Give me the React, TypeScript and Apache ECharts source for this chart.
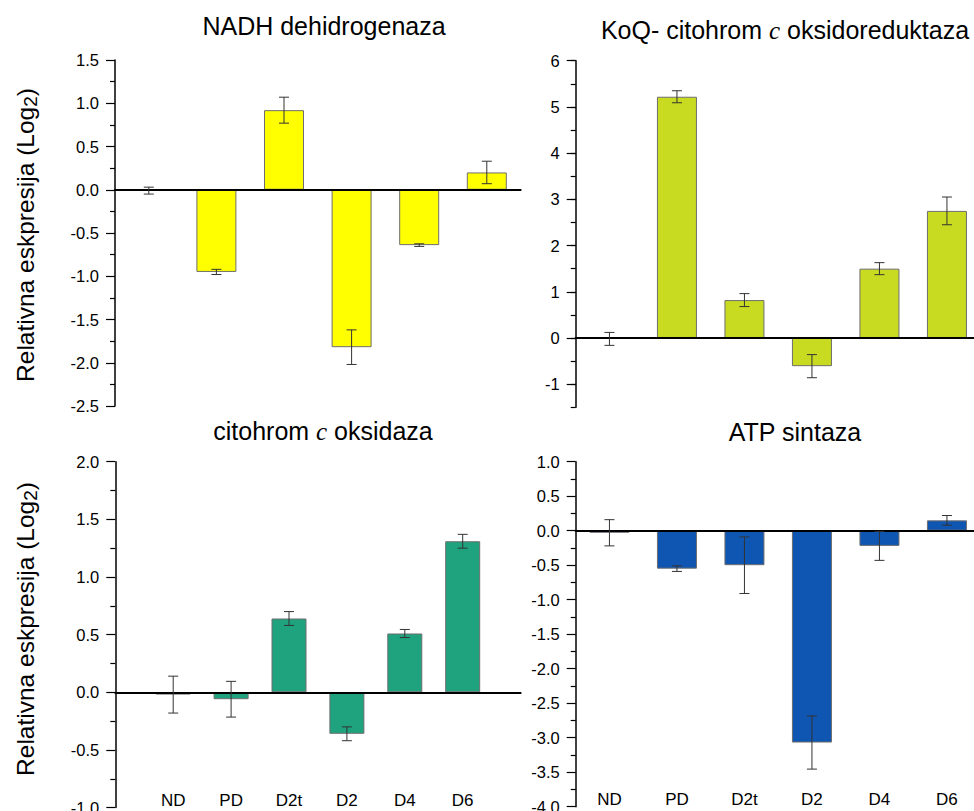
import React, { useEffect, useRef } from "react";
import * as echarts from "echarts";

const categories = ["ND", "PD", "D2t", "D2", "D4", "D6"];

const nadhValues = [-0.01, -0.95, 0.92, -1.82, -0.64, 0.2];
const nadhErrors = [0.04, 0.03, 0.15, 0.2, 0.015, 0.13];

const koqValues = [-0.02, 5.22, 0.82, -0.61, 1.5, 2.75];
const koqErrors = [0.14, 0.13, 0.14, 0.25, 0.13, 0.3];

const coxValues = [-0.02, -0.06, 0.64, -0.36, 0.51, 1.31];
const coxErrors = [0.16, 0.155, 0.06, 0.06, 0.035, 0.06];

const atpValues = [-0.03, -0.55, -0.5, -3.07, -0.22, 0.15];
const atpErrors = [0.19, 0.04, 0.41, 0.385, 0.21, 0.07];

const titles = [
  "NADH dehidrogenaza",
  "KoQ- citohrom {it|c} oksidoreduktaza",
  "citohrom {it|c} oksidaza",
  "ATP sintaza",
];
const yAxisTitle = "Relativna eskpresija (Log{sub|2})";

const FONT = '"Liberation Sans", Arial, sans-serif';

export default function App() {
  const ref = useRef<HTMLDivElement>(null);

  useEffect(() => {
    if (!ref.current) return;
    const chart = echarts.init(ref.current, undefined, { renderer: "svg" });

    const padded = ["", ...categories, ""];

    const errRender = (params: any, api: any) => {
      const x = api.value(0);
      const lo = api.coord([x, api.value(1)]);
      const hi = api.coord([x, api.value(2)]);
      const hw = 5;
      const st = { stroke: "#333", lineWidth: 1 };
      return {
        type: "group",
        children: [
          { type: "line", shape: { x1: lo[0], y1: lo[1], x2: hi[0], y2: hi[1] }, style: st },
          { type: "line", shape: { x1: lo[0] - hw, y1: lo[1], x2: lo[0] + hw, y2: lo[1] }, style: st },
          { type: "line", shape: { x1: hi[0] - hw, y1: hi[1], x2: hi[0] + hw, y2: hi[1] }, style: st },
        ],
      };
    };

    const errData = (vals: number[], errs: number[], offset: number) =>
      vals.map((v, i) => [i + offset, v - errs[i], v + errs[i]]);

    const zeroAxis = (gridIndex: number, data: string[], boundaryGap: boolean) => ({
      type: "category",
      gridIndex,
      data,
      boundaryGap,
      z: 4,
      axisLine: { show: true, onZero: true, lineStyle: { color: "#000", width: 2 } },
      axisTick: { show: false },
      axisLabel: { show: false },
      splitLine: { show: false },
    });

    const labelAxis = (gridIndex: number, data: string[], boundaryGap: boolean) => ({
      type: "category",
      gridIndex,
      data,
      boundaryGap,
      position: "bottom",
      axisLine: { show: false, onZero: false },
      axisTick: { show: false },
      splitLine: { show: false },
      axisLabel: {
        show: true,
        inside: true,
        interval: 0,
        margin: -1,
        fontSize: 17,
        fontFamily: FONT,
        color: "#000",
      },
    });

    const valAxis = (
      gridIndex: number,
      min: number,
      max: number,
      interval: number,
      opts: { labels: boolean; minor: boolean; tickLen: number; line: boolean }
    ) => ({
      type: "value",
      gridIndex,
      min,
      max,
      interval,
      axisLine: { show: opts.line, onZero: false, lineStyle: { color: "#000", width: 1.5 } },
      axisTick: { show: true, length: opts.tickLen, lineStyle: { color: "#000", width: 1.2 } },
      minorTick: { show: opts.minor, splitNumber: 2, length: 5, lineStyle: { color: "#000", width: 1.2 } },
      splitLine: { show: false },
      minorSplitLine: { show: false },
      axisLabel: {
        show: opts.labels,
        margin: 16,
        fontSize: 16.5,
        fontFamily: FONT,
        color: "#000",
        formatter: (v: number) => (interval < 1 ? v.toFixed(1) : String(v)),
      },
    });

    const barStyle = (color: string) => ({
      color,
      borderColor: "#6e6e6e",
      borderWidth: 1,
    });

    const titleStyle = (text: string) => ({
      text,
      fontSize: 25,
      fontFamily: FONT,
      fill: "#000",
      align: "center",
      verticalAlign: "middle",
      rich: { it: { fontFamily: '"Liberation Serif", serif', fontStyle: "italic", fontSize: 25, fill: "#000" } },
    });

    const yTitleStyle = {
      text: yAxisTitle,
      fontSize: 24.5,
      fontFamily: FONT,
      fill: "#000",
      align: "center",
      verticalAlign: "middle",
      rich: { sub: { fontSize: 19, fontFamily: FONT, fill: "#000", padding: [10, 0, 0, 0] } },
    };

    const option: any = {
      animation: false,
      grid: [
        { left: 115, top: 60, width: 405.6, height: 346, outerBoundsMode: "none" },
        { left: 575.7, top: 60.7, width: 405, height: 346.6, outerBoundsMode: "none" },
        { left: 115.3, top: 461.7, width: 405.3, height: 345.9, outerBoundsMode: "none" },
        { left: 575.7, top: 461.7, width: 405, height: 345, outerBoundsMode: "none" },
        { left: 575.7, top: 60.7, width: 405, height: 323.5, outerBoundsMode: "none" },
      ],
      xAxis: [
        zeroAxis(0, categories, true),
        zeroAxis(1, categories, true),
        zeroAxis(2, padded, false),
        labelAxis(2, padded, false),
        zeroAxis(3, categories, true),
        labelAxis(3, categories, true),
        { type: "value", gridIndex: 4, min: 0, max: 1, show: false },
      ],
      yAxis: [
        valAxis(0, -2.5, 1.5, 0.5, { labels: true, minor: true, tickLen: 9, line: true }),
        valAxis(1, -1.5, 6, 0.5, { labels: false, minor: false, tickLen: 5, line: true }),
        valAxis(2, -1, 2, 0.5, { labels: true, minor: true, tickLen: 9, line: true }),
        valAxis(3, -4, 1, 0.5, { labels: true, minor: true, tickLen: 9, line: true }),
        valAxis(4, -1, 6, 1, { labels: true, minor: false, tickLen: 9, line: false }),
      ],
      series: [
        {
          type: "bar", xAxisIndex: 0, yAxisIndex: 0, data: nadhValues, barWidth: 40, z: 2,
          itemStyle: barStyle("#FFFF00"),
        },
        {
          type: "custom", xAxisIndex: 0, yAxisIndex: 0, renderItem: errRender, z: 6,
          encode: { x: 0, y: [1, 2] }, data: errData(nadhValues, nadhErrors, 0),
        },
        {
          type: "bar", xAxisIndex: 1, yAxisIndex: 1, data: koqValues, barWidth: 40, z: 2,
          itemStyle: barStyle("#C8DB21"),
        },
        {
          type: "custom", xAxisIndex: 1, yAxisIndex: 1, renderItem: errRender, z: 6,
          encode: { x: 0, y: [1, 2] }, data: errData(koqValues, koqErrors, 0),
        },
        {
          type: "bar", xAxisIndex: 2, yAxisIndex: 2, data: ["-", ...coxValues, "-"], barWidth: 35, z: 2,
          itemStyle: barStyle("#1EA37E"),
        },
        {
          type: "custom", xAxisIndex: 2, yAxisIndex: 2, renderItem: errRender, z: 6,
          encode: { x: 0, y: [1, 2] }, data: errData(coxValues, coxErrors, 1),
        },
        {
          type: "bar", xAxisIndex: 4, yAxisIndex: 3, data: atpValues, barWidth: 40, z: 2,
          itemStyle: barStyle("#0F56B2"),
        },
        {
          type: "custom", xAxisIndex: 4, yAxisIndex: 3, renderItem: errRender, z: 6,
          encode: { x: 0, y: [1, 2] }, data: errData(atpValues, atpErrors, 0),
        },
      ],
      graphic: [
        { type: "text", x: 324, y: 26, style: titleStyle(titles[0]) },
        { type: "text", x: 785, y: 30, style: titleStyle(titles[1]) },
        { type: "text", x: 323, y: 431, style: titleStyle(titles[2]) },
        { type: "text", x: 795, y: 432, style: titleStyle(titles[3]) },
        { type: "text", x: 25, y: 235, rotation: Math.PI / 2, style: yTitleStyle },
        { type: "text", x: 25, y: 629, rotation: Math.PI / 2, style: yTitleStyle },
      ],
    };

    chart.setOption(option);
    return () => chart.dispose();
  }, []);

  return (
    <div
      ref={ref}
      style={{ position: "absolute", left: 0, top: 0, width: 974, height: 811, background: "#fff" }}
    />
  );
}
